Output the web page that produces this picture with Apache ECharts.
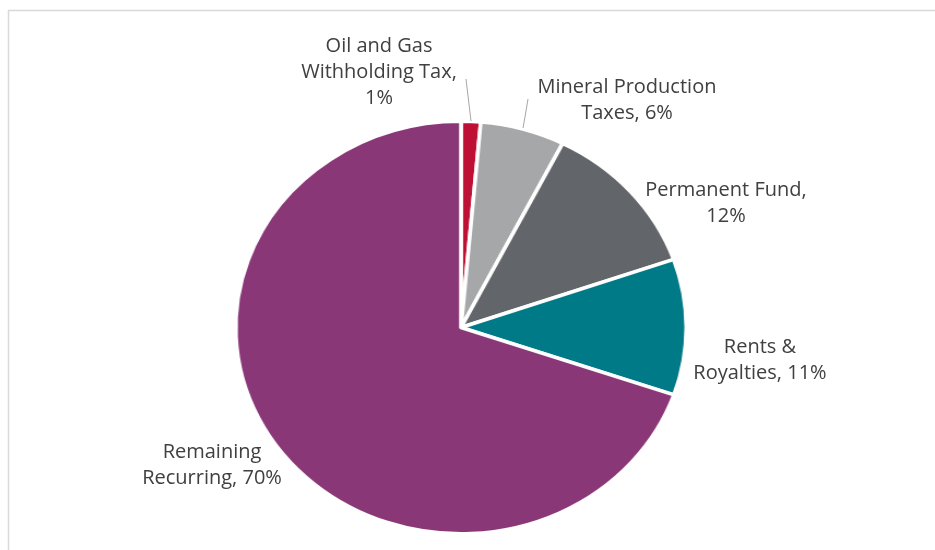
<!DOCTYPE html>
<html>
<head>
<meta charset="utf-8">
<script src="https://cdn.jsdelivr.net/npm/echarts@6/dist/echarts.min.js"></script>
<style>
html,body{margin:0;padding:0;background:#fff;}
#wrap{position:relative;width:935px;height:550px;overflow:hidden;}
#pie{position:absolute;left:0;top:0;width:935px;height:550px;transform-origin:461px 327.5px;transform:scaleX(1.092);}
#lab{position:absolute;left:0;top:0;width:935px;height:550px;}
</style>
</head>
<body>
<div id="wrap"><div id="pie"></div><div id="lab"></div></div>
<script>
// ---- data ----
const categories = ['Oil and Gas\nWithholding Tax', 'Mineral Production\nTaxes', 'Permanent Fund', 'Rents &\nRoyalties', 'Remaining\nRecurring'];
const values = [1.4, 6.05, 12.2, 10.65, 69.7];
const separators = [',\n', ', ', ',\n', ', ', ', '];
const colors = ['#BE0F34', '#A6A7A9', '#626569', '#007A86', '#8A3778'];

// ---- layout (not data) ----
const CENTER = [461, 327.5];
const RADIUS = 206.3;
const labelPos = [[379, 72], [627, 100], [726, 203], [760, 360], [212, 465]];
const leader = {
  0: [[466, 79], [468.5, 100], [471, 121]],
  1: [[528, 99], [525.5, 114], [523, 128]]
};

const pieChart = echarts.init(document.getElementById('pie'), null, {renderer: 'canvas'});
pieChart.setOption({
  animation: false,
  series: [{
    type: 'pie',
    center: CENTER,
    radius: RADIUS,
    startAngle: 90,
    clockwise: true,
    silent: true,
    label: {show: false},
    labelLine: {show: false},
    itemStyle: {borderColor: '#ffffff', borderWidth: 3.5},
    data: categories.map((c, i) => ({name: c, value: values[i], itemStyle: {color: colors[i]}}))
  }]
});

const labChart = echarts.init(document.getElementById('lab'), null, {renderer: 'canvas'});
labChart.setOption({
  animation: false,
  graphic: [{
    type: 'rect', silent: true,
    shape: {x: 8.5, y: 10.5, width: 1000, height: 700},
    style: {fill: 'none', stroke: '#D9D9D9', lineWidth: 1.5}
  }],
  series: [{
    type: 'pie',
    center: CENTER,
    radius: RADIUS,
    startAngle: 90,
    clockwise: true,
    silent: true,
    percentPrecision: 0,
    itemStyle: {color: 'rgba(0,0,0,0)', borderWidth: 0},
    label: {
      show: true,
      position: 'outside',
      color: '#404040',
      fontFamily: 'Open Sans',
      fontSize: 20,
      lineHeight: 26,
      align: 'center',
      formatter: p => p.name + separators[p.dataIndex] + p.percent + '%'
    },
    labelLine: {show: true, lineStyle: {color: '#A6A6A6', width: 1}},
    labelLayout: function (params) {
      const i = params.dataIndex;
      const o = {x: labelPos[i][0], y: labelPos[i][1], align: 'center', verticalAlign: 'middle'};
      if (leader[i]) o.labelLinePoints = leader[i];
      return o;
    },
    data: categories.map((c, i) => ({
      name: c, value: values[i],
      labelLine: {show: !!leader[i]}
    }))
  }]
});
</script>
</body>
</html>
